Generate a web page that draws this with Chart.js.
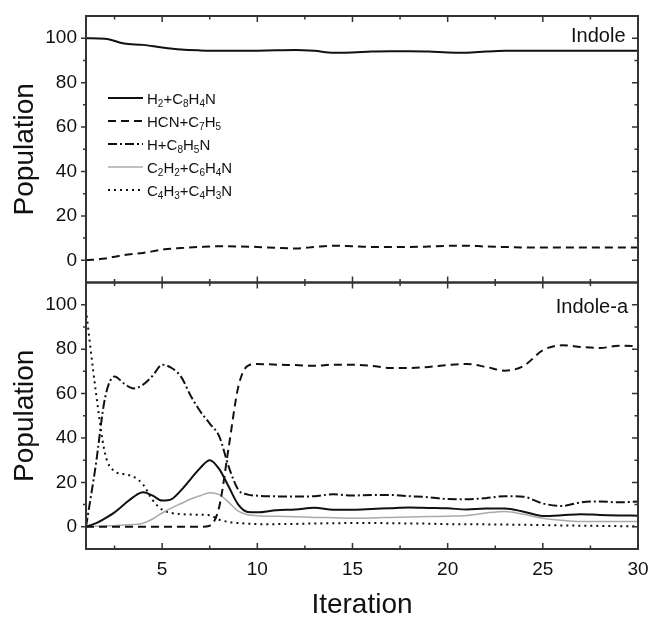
<!DOCTYPE html>
<html>
<head>
<meta charset="utf-8">
<script src="https://cdn.jsdelivr.net/npm/chart.js@4.4.1/dist/chart.umd.min.js"></script>
<style>
  html, body { margin: 0; padding: 0; background: #fff; }
  #wrap { width: 651px; height: 625px; }
</style>
</head>
<body>
<div id="wrap"><canvas id="popChart" width="651" height="625"></canvas></div>
<script>
// --- data: Indole (top panel) ---
var iterIndole = [1, 2, 3, 4, 5, 6, 7, 8, 9, 10, 11, 12, 13, 14, 15, 16, 17, 18, 19, 20,
                  21, 22, 23, 24, 25, 26, 27, 28, 29, 30];
var indoleH2  = [100, 99.8, 97.6, 97, 95.8, 94.9, 94.5, 94.3, 94.3, 94.4, 94.6, 94.7, 94.3, 93.5, 93.6,
                 94, 94.1, 94.1, 94, 93.6, 93.5, 94, 94.3, 94.3, 94.3, 94.3, 94.3, 94.3, 94.3, 94.3];
var indoleHCN = [0, 0.8, 2.4, 3.3, 4.8, 5.5, 6, 6.3, 6.2, 6, 5.6, 5.3, 6, 6.6, 6.3,
                 6, 6, 6, 6.2, 6.5, 6.6, 6.2, 6, 5.8, 5.8, 5.8, 5.8, 5.8, 5.8, 5.8];

// --- data: Indole-a (bottom panel) ---
var iterIndoleA = [1, 1.5, 2, 2.5, 3, 3.5, 4, 4.5, 5, 5.5, 6, 6.5, 7, 7.5, 8, 8.5, 9, 9.5, 10,
                   11, 12, 13, 14, 15, 16, 17, 18, 19, 20, 21, 22, 23, 24, 25, 26, 27, 28, 29, 30];
var aH2   = [0, 1.5, 3.8, 6.5, 10, 13.5, 15.5, 14, 11.8, 12.5, 16.5, 21.5, 26.5, 30, 26, 18, 10, 6.7, 6.5,
             7.5, 7.8, 8.6, 7.7, 7.7, 8, 8.4, 8.7, 8.5, 8.3, 7.8, 8.2, 8.2, 6.8, 4.9, 5.2, 5.7, 5.3, 5.1, 5];
var aHCN  = [0, 0, 0, 0, 0, 0, 0, 0, 0, 0, 0, 0, 0, 0.5, 9, 36, 63, 72.5, 73.3,
             73, 72.8, 72.5, 73, 73, 72.5, 71.5, 71.5, 72, 72.8, 73.3, 72, 70.3, 72.5, 79.5, 81.7, 81, 80.5, 81.5, 81.3];
var aH    = [0, 27, 58, 67.7, 64.5, 62.3, 64, 68, 73, 71.5, 67.5, 59, 52, 46.5, 40.7, 27, 16.7, 14.5, 14,
             13.7, 13.6, 13.8, 14.6, 14.1, 14.3, 14.3, 13.8, 13.3, 12.5, 12.4, 12.9, 13.8, 13.5, 10.5, 9.4, 11, 11.4, 11, 11.4];
var aC2H2 = [0, 0.2, 0.4, 0.5, 0.8, 1, 1.6, 3.5, 6.2, 8.5, 10.5, 12.5, 14, 15.3, 14.5, 11, 7, 5.4, 5,
             4.7, 4.5, 4.2, 4.1, 3.9, 4, 4.2, 4.4, 4.6, 4.8, 5.1, 6.2, 6.9, 5.6, 3.8, 2.9, 2.4, 2.4, 2.4, 2.4];
var aC4H3 = [97.7, 62, 33, 25, 23.7, 22.5, 19, 12, 7.7, 6.2, 5.7, 5.5, 5.4, 5.2, 3.2, 2.2, 1.7, 1.4, 1.2,
             1.2, 1.3, 1.5, 1.6, 1.7, 1.7, 1.6, 1.5, 1.4, 1.2, 1.2, 1.1, 1, 0.9, 0.8, 0.6, 0.5, 0.4, 0.3, 0.2];

// names ("_" marks a subscript digit), panel labels, ticks
var seriesNames = ['H_2+C_8H_4N', 'HCN+C_7H_5', 'H+C_8H_5N', 'C_2H_2+C_6H_4N', 'C_4H_3+C_4H_3N'];
var panelNames = ['Indole', 'Indole-a'];
var xTicks = [5, 10, 15, 20, 25, 30];
var yTicks = [0, 20, 40, 60, 80, 100];

var FONT = "'Liberation Sans', Arial, Helvetica, sans-serif";

// line look per series
var lineStyles = [
  { color: '#111', width: 2,   dash: [] },
  { color: '#111', width: 2,   dash: [8, 5] },
  { color: '#111', width: 2,   dash: [9, 3, 2, 3] },
  { color: '#aaa', width: 1.5, dash: [] },
  { color: '#111', width: 2,   dash: [2, 4] }
];

function pts(xs, ys) {
  return xs.map(function (x, i) { return { x: x, y: ys[i] }; });
}

function plainName(s) { return s.replace(/_/g, ''); }

function makeSet(k, xs, ys, axis) {
  var st = lineStyles[k];
  return {
    label: plainName(seriesNames[k]),
    data: pts(xs, ys),
    yAxisID: axis,
    borderColor: st.color,
    borderWidth: st.width,
    borderDash: st.dash,
    borderCapStyle: 'butt',
    pointRadius: 0,
    fill: false,
    cubicInterpolationMode: 'monotone'
  };
}

function yAxis() {
  return {
    type: 'linear',
    position: 'left',
    stack: 'panels',
    stackWeight: 1,
    min: -10,
    max: 110,
    grid: { display: false, drawTicks: false },
    border: { display: false },
    ticks: { font: { family: FONT, size: 19 }, color: '#111', padding: 9 },
    title: { display: true, text: 'Population', color: '#111',
             font: { family: FONT, size: 28 }, padding: { top: 8, bottom: 0 } },
    afterBuildTicks: function (s) { s.ticks = yTicks.map(function (v) { return { value: v }; }); },
    afterFit: function (s) { s.width = 86; s.paddingTop = 0; s.paddingBottom = 0; }
  };
}

// draw a label where "_d" is a subscript digit
function drawChem(ctx, txt, x, y, size) {
  var parts = txt.split(/(_\d)/);
  parts.forEach(function (p) {
    if (!p) return;
    if (p.charAt(0) === '_') {
      ctx.font = Math.round(size * 0.66) + 'px ' + FONT;
      ctx.fillText(p.charAt(1), x, y + 3);
      x += ctx.measureText(p.charAt(1)).width;
    } else {
      ctx.font = size + 'px ' + FONT;
      ctx.fillText(p, x, y);
      x += ctx.measureText(p).width;
    }
  });
}

var framePlugin = {
  id: 'frame',
  afterDraw: function (chart) {
    var ctx = chart.ctx, area = chart.chartArea, xs = chart.scales.x;
    var panels = ['yTop', 'yBot'];
    ctx.save();
    panels.forEach(function (id, p) {
      var ys = chart.scales[id];
      var top = ys.top, bot = ys.bottom, L = area.left, R = area.right;
      ctx.strokeStyle = '#333';
      ctx.lineWidth = 2;
      ctx.setLineDash([]);
      ctx.strokeRect(L, top, R - L, bot - top);

      ctx.lineWidth = 1.5;
      ctx.beginPath();
      for (var v = 2.5; v < 30; v += 2.5) {
        var px = xs.getPixelForValue(v);
        var len = (v % 5 === 0) ? 6 : 3.5;
        ctx.moveTo(px, bot); ctx.lineTo(px, bot - len);
        ctx.moveTo(px, top); ctx.lineTo(px, top + len);
      }
      for (var w = 0; w <= 100; w += 10) {
        var py = ys.getPixelForValue(w);
        var major = (w % 20 === 0);
        ctx.moveTo(L, py); ctx.lineTo(L - (major ? 5 : 3), py);
        ctx.moveTo(R, py); ctx.lineTo(R - (major ? 6 : 3.5), py);
      }
      ctx.stroke();

      // panel name, top right
      ctx.fillStyle = '#111';
      ctx.font = '20px ' + FONT;
      ctx.textAlign = 'right';
      ctx.textBaseline = 'alphabetic';
      ctx.fillText(panelNames[p], R - (p === 0 ? 12.5 : 10), top + (p === 0 ? 26 : 30));
    });

    // legend inside the top panel
    var top0 = chart.scales.yTop.top;
    ctx.textAlign = 'left';
    seriesNames.forEach(function (name, k) {
      var st = lineStyles[k];
      var y = top0 + 82 + k * 23;
      ctx.strokeStyle = st.color;
      ctx.lineWidth = st.width;
      ctx.setLineDash(st.dash);
      ctx.beginPath();
      ctx.moveTo(area.left + 22, y);
      ctx.lineTo(area.left + 57, y);
      ctx.stroke();
      ctx.setLineDash([]);
      ctx.fillStyle = '#111';
      drawChem(ctx, name, area.left + 61, y + 5.5, 15);
    });
    ctx.restore();
  }
};

var datasets = [
  makeSet(0, iterIndole, indoleH2, 'yTop'),
  makeSet(1, iterIndole, indoleHCN, 'yTop'),
  makeSet(0, iterIndoleA, aH2, 'yBot'),
  makeSet(1, iterIndoleA, aHCN, 'yBot'),
  makeSet(2, iterIndoleA, aH, 'yBot'),
  makeSet(3, iterIndoleA, aC2H2, 'yBot'),
  makeSet(4, iterIndoleA, aC4H3, 'yBot')
];

var ctx = document.getElementById('popChart').getContext('2d');
var myChart = new Chart(ctx, {
  type: 'line',
  data: { datasets: datasets },
  options: {
    responsive: false,
    animation: false,
    layout: { padding: { top: 16, right: 13, bottom: 0, left: 0 } },
    plugins: { legend: { display: false }, tooltip: { enabled: false } },
    scales: {
      x: {
        type: 'linear',
        position: 'bottom',
        min: 1,
        max: 30,
        grid: { display: false, drawTicks: false },
        border: { display: false },
        ticks: { font: { family: FONT, size: 19 }, color: '#111', padding: 9,
                 autoSkip: false, maxRotation: 0 },
        title: { display: true, text: 'Iteration', color: '#111',
                 font: { family: FONT, size: 28 }, padding: { top: 0, bottom: 3 } },
        afterBuildTicks: function (s) { s.ticks = xTicks.map(function (v) { return { value: v }; }); },
        afterFit: function (s) { s.height = 76; s.paddingLeft = 0; s.paddingRight = 0; }
      },
      yBot: yAxis(),
      yTop: yAxis()
    }
  },
  plugins: [framePlugin]
});
</script>
</body>
</html>
